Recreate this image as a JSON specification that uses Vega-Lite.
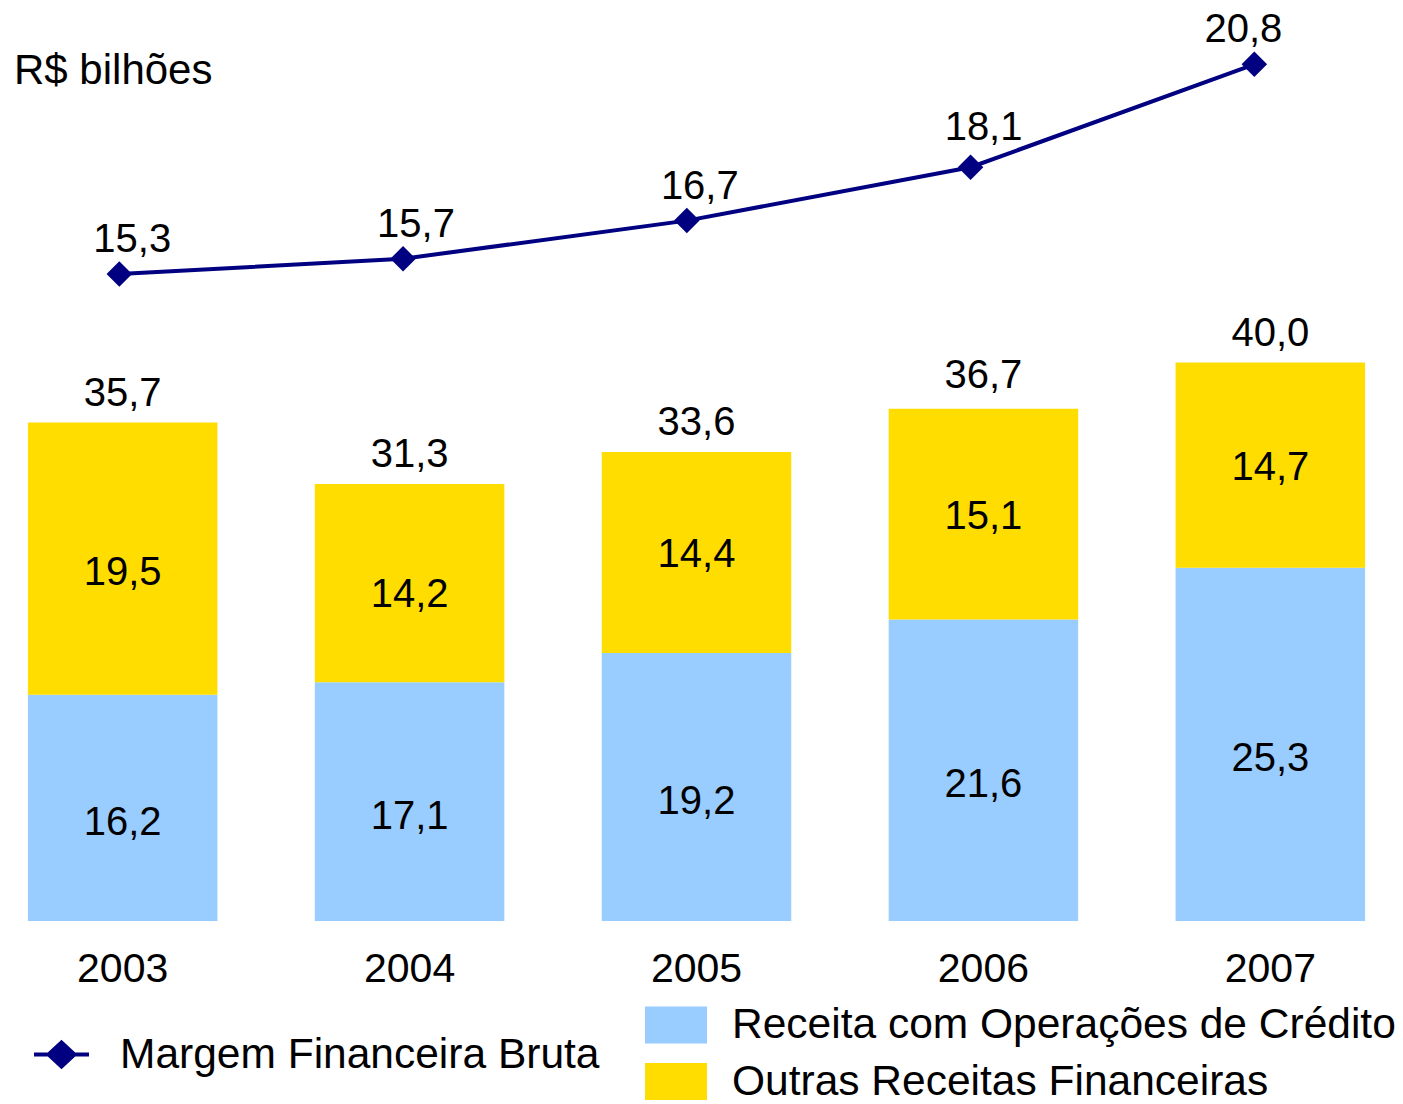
{
  "$schema": "https://vega.github.io/schema/vega-lite/v6.json",
  "width": 1393,
  "height": 921,
  "autosize": "none",
  "padding": {"left": 0, "top": 0, "right": 10, "bottom": 183},
  "background": "white",
  "title": {
    "text": "R$ bilhões",
    "anchor": "start",
    "frame": "group",
    "orient": "top",
    "fontSize": 42,
    "font": "Liberation Sans",
    "fontWeight": "normal",
    "color": "black",
    "baseline": "alphabetic",
    "offset": 0,
    "dx": 14,
    "dy": 126
  },
  "datasets": {
    "barras": [
      {"year": "2003", "series": "Receita com Operações de Crédito", "value": 16.2},
      {"year": "2003", "series": "Outras Receitas Financeiras", "value": 19.5},
      {"year": "2004", "series": "Receita com Operações de Crédito", "value": 17.1},
      {"year": "2004", "series": "Outras Receitas Financeiras", "value": 14.2},
      {"year": "2005", "series": "Receita com Operações de Crédito", "value": 19.2},
      {"year": "2005", "series": "Outras Receitas Financeiras", "value": 14.4},
      {"year": "2006", "series": "Receita com Operações de Crédito", "value": 21.6},
      {"year": "2006", "series": "Outras Receitas Financeiras", "value": 15.1},
      {"year": "2007", "series": "Receita com Operações de Crédito", "value": 25.3},
      {"year": "2007", "series": "Outras Receitas Financeiras", "value": 14.7}
    ],
    "margem": [
      {"year": "2003", "margem": 15.3},
      {"year": "2004", "margem": 15.7},
      {"year": "2005", "margem": 16.7},
      {"year": "2006", "margem": 18.1},
      {"year": "2007", "margem": 20.8}
    ]
  },
  "resolve": {"scale": {"x": "independent", "y": "independent"}},
  "layer": [
    {
      "data": {"name": "barras"},
      "encoding": {
        "x": {
          "field": "year",
          "type": "ordinal",
          "scale": {"type": "band", "paddingInner": 0.3395, "paddingOuter": 0.0973},
          "axis": {
            "title": null,
            "domain": false,
            "ticks": false,
            "tickSize": 0,
            "grid": false,
            "labelAngle": 0,
            "labelPadding": 60,
            "labelBaseline": "alphabetic",
            "labelFontSize": 41,
            "labelFont": "Liberation Sans",
            "labelColor": "black"
          }
        }
      },
      "layer": [
        {
          "mark": {"type": "bar"},
          "encoding": {
            "y": {
              "field": "value",
              "type": "quantitative",
              "aggregate": "sum",
              "stack": "zero",
              "scale": {"domain": [0, 65.97], "nice": false, "zero": true},
              "axis": null
            },
            "color": {
              "field": "series",
              "type": "nominal",
              "scale": {
                "domain": ["Receita com Operações de Crédito", "Outras Receitas Financeiras"],
                "range": ["#99CCFF", "#FFDD00"]
              },
              "legend": {
                "orient": "none",
                "legendX": 651,
                "legendY": 1000,
                "title": null,
                "padding": 0,
                "symbolType": "M-1.24,-0.74H1.24V0.74H-1.24Z",
                "symbolSize": 2500,
                "symbolStrokeWidth": 0,
                "symbolOpacity": 1,
                "labelFontSize": 42.5,
                "labelFont": "Liberation Sans",
                "labelColor": "black",
                "labelOffset": 31,
                "labelLimit": 0,
                "rowPadding": 9.5
              }
            },
            "order": {"field": "series", "sort": "descending"}
          }
        },
        {
          "mark": {"type": "text", "baseline": "alphabetic", "dy": {"expr": "datum.year == '2006' ? -21 : -17"}, "fontSize": 40, "font": "Liberation Sans", "color": "black"},
          "encoding": {
            "y": {"field": "value", "type": "quantitative", "aggregate": "sum", "stack": null},
            "text": {"field": "value", "type": "quantitative", "aggregate": "sum", "format": ".1f"}
          }
        },
        {
          "transform": [
            {"stack": "value", "groupby": ["year"], "sort": [{"field": "series", "order": "descending"}], "as": ["v0", "v1"]},
            {"calculate": "(datum.v0 + datum.v1) / 2", "as": "mid"},
            {"filter": "datum.series == 'Receita com Operações de Crédito'"}
          ],
          "mark": {"type": "text", "baseline": "alphabetic", "dy": 27, "fontSize": 40, "font": "Liberation Sans", "color": "black"},
          "encoding": {
            "y": {"field": "mid", "type": "quantitative"},
            "text": {"field": "value", "type": "quantitative", "format": ".1f"}
          }
        },
        {
          "transform": [
            {"stack": "value", "groupby": ["year"], "sort": [{"field": "series", "order": "descending"}], "as": ["v0", "v1"]},
            {"calculate": "(datum.v0 + datum.v1) / 2", "as": "mid"},
            {"filter": "datum.series == 'Outras Receitas Financeiras'"}
          ],
          "mark": {"type": "text", "baseline": "alphabetic", "dy": {"expr": "datum.year == '2003' ? 26 : datum.year == '2004' ? 24 : 15"}, "fontSize": 40, "font": "Liberation Sans", "color": "black"},
          "encoding": {
            "y": {"field": "mid", "type": "quantitative"},
            "text": {"field": "value", "type": "quantitative", "format": ".1f"}
          }
        }
      ]
    },
    {
      "data": {"name": "margem"},
      "encoding": {
        "x": {
          "field": "year",
          "type": "ordinal",
          "scale": {"type": "point", "padding": 0.4546, "align": 0.4624},
          "axis": null
        },
        "y": {
          "field": "margem",
          "type": "quantitative",
          "scale": {"domain": [-1.668, 22.486], "nice": false, "zero": false},
          "axis": null
        }
      },
      "layer": [
        {
          "mark": {"type": "line", "strokeWidth": 4},
          "encoding": {
            "stroke": {
              "datum": "Margem Financeira Bruta",
              "type": "nominal",
              "scale": {"range": ["#000080"]},
              "legend": {
                "orient": "none",
                "legendX": 32,
                "legendY": 1025,
                "title": null,
                "padding": 0,
                "symbolType": "M-1,0H1M-0.47,0L0,-0.44L0.47,0L0,0.44Z",
                "symbolSize": 3025,
                "symbolStrokeWidth": 4,
                "symbolFillColor": "#000080",
                "symbolStrokeColor": "#000080",
                "symbolOpacity": 1,
                "labelFontSize": 42.5,
                "labelFont": "Liberation Sans",
                "labelColor": "black",
                "labelOffset": 29,
                "labelLimit": 0,
                "encode": {"symbols": {"update": {"fill": {"value": "#000080"}, "stroke": {"value": "#000080"}}}}
              }
            }
          }
        },
        {
          "mark": {"type": "point", "shape": "diamond", "size": 650, "filled": true, "opacity": 1, "color": "#000080"}
        },
        {
          "mark": {"type": "text", "baseline": "alphabetic", "dx": {"expr": "datum.year == '2007' ? -11 : 13"}, "dy": {"expr": "datum.year == '2006' ? -27 : -22"}, "fontSize": 40, "font": "Liberation Sans", "color": "black"},
          "encoding": {
            "text": {"field": "margem", "type": "quantitative", "format": ".1f"}
          }
        }
      ]
    }
  ],
  "config": {
    "locale": {"number": {"decimal": ",", "thousands": ".", "grouping": [3], "currency": ["R$ ", ""]}},
    "view": {"stroke": null},
    "font": "Liberation Sans"
  }
}
